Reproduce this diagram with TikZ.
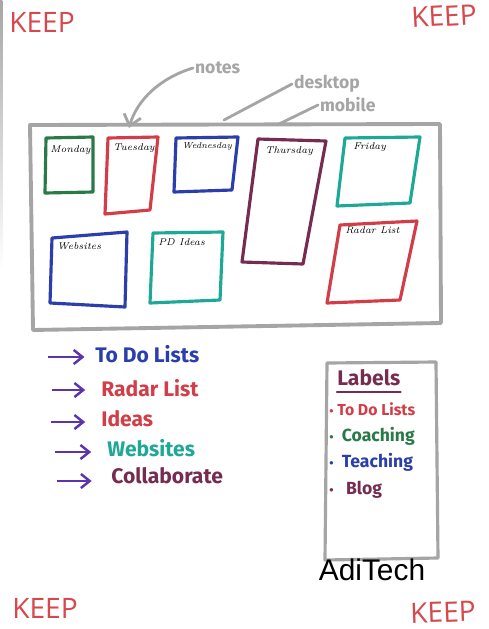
\documentclass[tikz,border=0pt]{standalone}
\usepackage{fontspec}
\usepackage{xcolor}
\usepackage{tikz}
\usetikzlibrary{arrows.meta,positioning}

\newfontfamily\penfont{Fira Sans}
\newfontfamily\keepfont{Open Sans}
\newfontfamily\signfont{Liberation Sans}

\definecolor{keepred}{RGB}{214,72,76}
\definecolor{boardgray}{RGB}{165,165,165}
\definecolor{penred}{RGB}{210,62,72}
\definecolor{pengreen}{RGB}{42,122,72}
\definecolor{penblue}{RGB}{42,62,172}
\definecolor{penmaroon}{RGB}{118,44,80}
\definecolor{penteal}{RGB}{30,168,150}
\definecolor{penpurple}{RGB}{92,52,172}

\begin{document}
\begin{tikzpicture}[
  x=0.02cm, y=-0.02cm,
  board/.style={draw=boardgray, line width=2.2pt, line join=round},
  sticky/.style={line width=1.8pt, line join=round},
  daylabel/.style={anchor=north west, inner sep=0pt, font=\itshape\fontsize{5.6}{6}\selectfont},
  keep/.style={text=keepred, font=\keepfont\fontsize{16}{18}\selectfont},
  note/.style={text=boardgray, font=\penfont\bfseries\normalsize, anchor=west, inner sep=1pt},
  noteline/.style={draw=boardgray, line width=1.6pt, line cap=round},
  item/.style={anchor=west, inner sep=0pt, font=\penfont\bfseries\large},
  tag/.style={anchor=west, inner sep=0pt, font=\penfont\bfseries\normalsize},
  arrow/.style={-{Straight Barb[length=5pt,width=8pt]}, draw=penpurple, line width=1.4pt}
]
  \useasboundingbox (0,0) rectangle (488,629);
  \fill[white] (0,0) rectangle (488,629);
  \shade[top color=gray!70, bottom color=white] (0,0) rectangle (2.5,270);

  % corner stamps
  \node[keep] (keepTL) at (42,22) {KEEP};
  \node[keep, rotate=3] (keepTR) at (444,16) {KEEP};
  \node[keep] (keepBL) at (45,608) {KEEP};
  \node[keep, rotate=2] (keepBR) at (443,612) {KEEP};

  % the board
  \draw[board] (30,125) -- (440,124) -- (441,323) -- (33,330) -- cycle;

  % notes, desktop, mobile
  \node[note] (notes) at (193,68) {notes};
  \node[note] (desktop) at (292,84) {desktop};
  \node[note] (mobile) at (318,105) {mobile};
  \coordinate (notesTip) at (129,128);
  \coordinate (deskEnd) at (224,120);
  \coordinate (mobEnd) at (277,125);
  \draw[noteline, -{Straight Barb[length=6pt,width=10pt]}] (notes.west) .. controls (160,78) and (137,100) .. (notesTip);
  \draw[noteline] (desktop.west) -- (deskEnd);
  \draw[noteline] (mobile.west) -- (mobEnd);

  % sticky notes
  \draw[sticky, draw=pengreen] (46,138) -- (93,137) -- (93,192) -- (45,193) -- cycle;
  \draw[sticky, draw=penred] (108,138) -- (158,137) -- (150,210) -- (105,214) -- cycle;
  \draw[sticky, draw=penblue] (176,138) -- (238,137) -- (232,190) -- (174,192) -- cycle;
  \draw[sticky, draw=penmaroon] (258,139) -- (326,141) -- (303,264) -- (242,262) -- cycle;
  \draw[sticky, draw=penteal] (345,138) -- (420,137) -- (410,203) -- (337,206) -- cycle;
  \draw[sticky, draw=penblue] (52,238) -- (127,232) -- (125,307) -- (50,303) -- cycle;
  \draw[sticky, draw=penteal] (153,233) -- (223,232) -- (220,300) -- (150,303) -- cycle;
  \draw[sticky, draw=penred] (340,225) -- (417,221) -- (400,300) -- (327,303) -- cycle;

  \node[daylabel] (monday) at (50,145) {Monday};
  \node[daylabel] (tuesday) at (113,143) {Tuesday};
  \node[daylabel, font=\itshape\fontsize{5}{6}\selectfont] (wednesday) at (182,142) {Wednesday};
  \node[daylabel] (thursday) at (265,146) {Thursday};
  \node[daylabel] (friday) at (353,142) {Friday};
  \node[daylabel] (websitesbox) at (57,242) {Websites};
  \node[daylabel] (pdideas) at (158,238) {PD Ideas};
  \node[daylabel] (radarbox) at (345,226) {Radar List};

  % list on the left
  \node[item, text=penblue] (todo) at (95,354) {To Do Lists};
  \node[item, text=penred] (radar) at (101,388) {Radar List};
  \node[item, text=penred] (ideas) at (101,419) {Ideas};
  \node[item, text=penteal] (websites) at (107,448) {Websites};
  \node[item, text=penmaroon] (collab) at (111,476) {Collaborate};

  \coordinate (a1) at (48,357);
  \coordinate (a2) at (52,390);
  \coordinate (a3) at (51,422);
  \coordinate (a4) at (55,452);
  \coordinate (a5) at (57,481);
  \draw[arrow, shorten >=6pt] (a1) -- (a1 -| todo.west);
  \draw[arrow, shorten >=9pt] (a2) -- (a2 -| radar.west);
  \draw[arrow, shorten >=9pt] (a3) -- (a3 -| ideas.west);
  \draw[arrow, shorten >=9pt] (a4) -- (a4 -| websites.west);
  \draw[arrow, shorten >=11pt] (a5) -- (a5 -| collab.west);

  % labels panel
  \draw[board, line width=1.8pt] (327,363) -- (436,362) -- (438,558) -- (325,560) -- cycle;
  \node[tag, text=penmaroon, font=\penfont\bfseries\large] (labels) at (337,378) {Labels};
  \draw[draw=penmaroon, line width=1.4pt, line cap=round] ([yshift=-3pt]labels.south west) -- ([yshift=-3pt]labels.south east);
  \node[tag, text=penred, font=\penfont\bfseries\small] (ltodo) at (329,409) {{\scriptsize•} To Do Lists};
  \node[tag, text=pengreen] (lcoach) at (329,436) {{\scriptsize•}\ \ Coaching};
  \node[tag, text=penblue] (lteach) at (329,462) {{\scriptsize•}\ \ Teaching};
  \node[tag, text=penmaroon] (lblog) at (329,490) {{\scriptsize•}\ \ \ Blog};

  \node[font=\signfont\fontsize{17}{19}\selectfont, inner sep=0pt] (aditech) at (372,570) {AdiTech};
\end{tikzpicture}
\end{document}
